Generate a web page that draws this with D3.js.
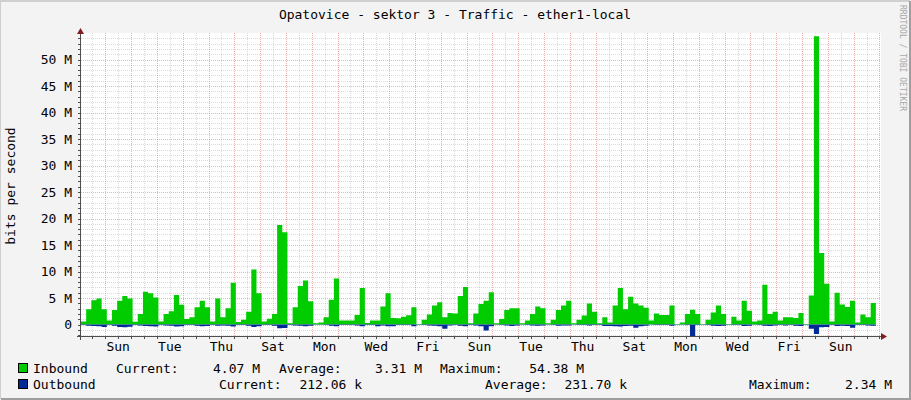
<!DOCTYPE html>
<html><head><meta charset="utf-8">
<script src="https://cdn.jsdelivr.net/npm/d3@7"></script>
<style>
html,body{margin:0;padding:0;background:#f3f3f3}
svg{display:block}
text{font-family:"DejaVu Sans Mono",monospace}
</style>
</head><body>
<svg id="c" width="911" height="400"></svg>
<script>
// ---------------- data ----------------
const title = "Opatovice - sektor 3 - Traffic - ether1-local";
const yAxisTitle = "bits per second";
const watermark = "RRDTOOL / TOBI OETIKER";
const seriesNames = ["Inbound", "Outbound"];
const seriesColors = ["#00CC00", "#002A97"];
const xTickLabels = ["Sun","Tue","Thu","Sat","Mon","Wed","Fri","Sun","Tue","Thu","Sat","Mon","Wed","Fri","Sun"];
const yTickValues = [0, 5, 10, 15, 20, 25, 30, 35, 40, 45, 50];           // in M (bits/s)
const yTickLabels = ["0","5 M","10 M","15 M","20 M","25 M","30 M","35 M","40 M","45 M","50 M"];
// consolidated samples, 5 per day (4.8 h each), in Mbit/s
const inbound = [
 0.6,2.9,4.6,4.9,2.9, 0.75,2.75,4.5,5.4,4.9, 0.56,2.0,6.2,5.9,5.1, 0.6,2.0,2.5,5.6,3.75,
 1.06,1.4,3.25,4.5,3.25, 0.6,4.9,1.4,3.1,7.9, 0.5,0.9,2.4,10.4,5.9, 0.6,1.1,2.0,18.8,17.4,
 0.25,3.25,7.3,8.3,4.4, 0.25,0.4,1.4,4.7,8.7, 0.75,0.75,0.75,1.8,6.9, 0.3,0.75,0.75,3.4,5.9,
 1.25,1.2,1.5,1.75,3.25, 0.1,0.9,1.9,3.6,4.2, 1.4,2.2,2.1,5.4,7.1, 0.25,2.1,3.9,4.5,6.1,
 0.25,1.06,2.75,3.1,3.1, 0.25,0.75,2.0,3.4,3.1, 0.25,0.9,2.75,3.6,4.5, 0.25,0.9,1.7,4.0,2.4,
 0.25,1.4,0.4,3.6,6.9, 2.9,5.25,4.0,3.6,3.2, 0.75,2.1,1.8,1.8,3.6, 0.1,0.4,2.0,2.8,2.0,
 0.1,0.9,2.3,3.6,2.0, 0.1,1.5,0.75,4.5,2.6, 0.6,0.75,7.5,2.0,2.4, 0.75,1.4,1.4,1.25,2.2,
 0.1,5.5,54.38,13.5,7.7, 0.57,6.0,3.8,3.3,4.5, 0.4,1.9,1.4,4.07
];
const outbound = [
 0.1,0.2,0.25,0.3,0.45, 0.1,0.2,0.45,0.5,0.4, 0.1,0.15,0.25,0.3,0.35, 0.1,0.15,0.2,0.35,0.3,
 0.1,0.1,0.2,0.3,0.25, 0.1,0.2,0.15,0.2,0.35, 0.1,0.1,0.2,0.45,0.3, 0.1,0.1,0.2,0.7,0.65,
 0.1,0.15,0.2,0.3,0.2, 0.05,0.05,0.1,0.2,0.3, 0.1,0.1,0.1,0.15,0.3, 0.1,0.1,0.3,0.15,0.3,
 0.3,0.1,0.1,0.1,0.3, 0.05,0.1,0.15,0.2,0.3, 0.8,0.15,0.1,0.2,0.3, 0.1,0.15,0.3,1.1,0.3,
 0.05,0.1,0.15,0.25,0.15, 0.05,0.1,0.15,0.2,0.15, 0.05,0.1,0.2,0.15,0.15, 0.05,0.1,0.1,0.15,0.1,
 0.1,0.25,0.25,0.3,0.35, 0.25,0.2,0.6,0.3,0.2, 0.05,0.1,0.1,0.1,0.2, 0.05,0.05,0.1,2.34,0.1,
 0.05,0.1,0.2,0.25,0.2, 0.05,0.1,0.1,0.25,0.2, 0.05,0.1,0.2,0.25,0.15, 0.1,0.15,0.1,0.2,0.25,
 0.05,0.8,1.76,0.5,0.45, 0.1,0.25,0.2,0.25,0.6, 0.1,0.1,0.15,0.212
];
const legendCurrent = ["4.07 M", "212.06 k"];
const legendAverage = ["3.31 M", "231.70 k"];
const legendMaximum = ["54.38 M", "2.34 M"];

// ---------------- layout ----------------
const W = 911, H = 400;
const X0 = 81, X1 = 881, YT = 33, YB = 337;
const HOUR = 3600e3, DAY = 24 * HOUR;
const t0 = Date.UTC(2020, 1, 1, 1, 24);       // Sat 01:24
const tEnd = t0 + 31 * DAY;
const stepMs = 4.8 * HOUR;

const svg = d3.select("#c");
const x = d3.scaleUtc().domain([new Date(t0), new Date(tEnd)]).range([X0, X1]);
const y = d3.scaleLinear().domain([-2.34, 55]).range([YB, YT]);

// background + 3D frame
svg.append("rect").attr("width", W).attr("height", H).attr("fill", "#F3F3F3");
svg.append("path").attr("d", `M0,${H-1} V1 H${W-1}`).attr("stroke", "#CFCFCF").attr("stroke-width", 2).attr("fill", "none");
svg.append("path").attr("d", `M1,${H-1} H${W-1} V1`).attr("stroke", "#9E9E9E").attr("stroke-width", 2).attr("fill", "none");

// canvas
svg.append("rect").attr("x", X0).attr("y", YT).attr("width", X1 - X0).attr("height", YB - YT).attr("fill", "#FFFFFF");

const grid = svg.append("g").attr("shape-rendering", "crispEdges");
const minorCol = "rgba(143,143,143,0.32)", majorCol = "rgba(230,70,70,0.42)";

// horizontal minor grid (1 M) and major (5 M)
const hMinor = d3.range(-2, 55, 1).filter(v => v % 5 !== 0);
grid.selectAll(".hmin").data(hMinor).join("line")
  .attr("x1", X0).attr("x2", X1)
  .attr("y1", d => Math.round(y(d)) + 0.5).attr("y2", d => Math.round(y(d)) + 0.5)
  .attr("stroke", minorCol).attr("stroke-dasharray", "1,1");
grid.selectAll(".hmaj").data(yTickValues).join("line")
  .attr("x1", X0).attr("x2", X1)
  .attr("y1", d => Math.round(y(d)) + 0.5).attr("y2", d => Math.round(y(d)) + 0.5)
  .attr("stroke", majorCol).attr("stroke-dasharray", "1,1");

// vertical grid: minor every 12h, major at midnight
const halfDays = d3.utcHour.every(12).range(new Date(t0), new Date(tEnd));
const days = d3.utcDay.range(new Date(t0), new Date(tEnd));
grid.selectAll(".vmin").data(halfDays.filter(d => d.getUTCHours() === 12)).join("line")
  .attr("x1", d => Math.round(x(d)) + 0.5).attr("x2", d => Math.round(x(d)) + 0.5)
  .attr("y1", YT).attr("y2", YB)
  .attr("stroke", minorCol).attr("stroke-dasharray", "1,1");
grid.selectAll(".vmaj").data(days).join("line")
  .attr("x1", d => Math.round(x(d)) + 0.5).attr("x2", d => Math.round(x(d)) + 0.5)
  .attr("y1", YT).attr("y2", YB)
  .attr("stroke", majorCol).attr("stroke-dasharray", "1,1");

// data areas
const inPts = inbound.map((v, i) => ({t: new Date(t0 + i * stepMs), v}));
inPts.push({t: new Date(t0 + inbound.length * stepMs), v: inbound[inbound.length - 1]});
const outPts = outbound.map((v, i) => ({t: new Date(t0 + i * stepMs), v}));
outPts.push({t: new Date(t0 + outbound.length * stepMs), v: outbound[outbound.length - 1]});

const areaIn = d3.area().curve(d3.curveStepAfter)
  .x(d => x(d.t)).y0(y(0)).y1(d => y(d.v));
const areaOut = d3.area().curve(d3.curveStepAfter)
  .x(d => x(d.t)).y0(y(0)).y1(d => y(-d.v));
svg.append("path").attr("d", areaIn(inPts)).attr("fill", seriesColors[0]);
svg.append("path").attr("d", areaOut(outPts)).attr("fill", seriesColors[1]);

// axes
const ax = svg.append("g").attr("shape-rendering", "crispEdges");
ax.append("line").attr("x1", 77).attr("x2", 884).attr("y1", YB - 0.5).attr("y2", YB - 0.5).attr("stroke", "#4F4F4F");
ax.append("line").attr("x1", X0 - 0.5).attr("x2", X0 - 0.5).attr("y1", 30).attr("y2", YB + 3).attr("stroke", "#4F4F4F");
// x ticks
ax.selectAll(".xt").data(halfDays).join("line")
  .attr("x1", d => Math.round(x(d)) + 0.5).attr("x2", d => Math.round(x(d)) + 0.5)
  .attr("y1", YB).attr("y2", YB + 2).attr("stroke", "#4F4F4F");
// y ticks
ax.selectAll(".yt").data(d3.range(-2, 55, 1)).join("line")
  .attr("x1", X0 - 3).attr("x2", X0 - 1)
  .attr("y1", d => Math.round(y(d)) + 0.5).attr("y2", d => Math.round(y(d)) + 0.5)
  .attr("stroke", "#4F4F4F");
// arrows
svg.append("path").attr("d", `M${X0-0.5},28 L${X0-4},34 L${X0+3},34 Z`).attr("fill", "#7F1F1F");
svg.append("path").attr("d", `M887,${YB-0.5} L881,${YB-4} L881,${YB+3} Z`).attr("fill", "#7F1F1F");

// tick labels
svg.selectAll(".yl").data(yTickValues).join("text")
  .attr("x", 72).attr("y", d => y(d) + 4.5).attr("text-anchor", "end")
  .attr("font-size", 13).attr("fill", "#000").text((d, i) => yTickLabels[i]);
const firstLabel = Date.UTC(2020, 1, 2, 12, 0);
svg.selectAll(".xl").data(xTickLabels).join("text")
  .attr("x", (d, i) => x(new Date(firstLabel + i * 2 * DAY)))
  .attr("y", 351).attr("text-anchor", "middle")
  .attr("font-size", 13).attr("fill", "#000").text(d => d);

// titles
svg.append("text").attr("x", 455).attr("y", 19).attr("text-anchor", "middle")
  .attr("font-size", 13).attr("fill", "#000").text(title);
svg.append("text").attr("transform", "translate(15,186) rotate(-90)").attr("text-anchor", "middle")
  .attr("font-size", 13).attr("fill", "#000").text(yAxisTitle);
svg.append("text").attr("transform", "translate(900,5) rotate(90)").attr("text-anchor", "start")
  .attr("font-size", 8).attr("fill", "#A8A8A8").text(watermark);

// legend
const lg = svg.append("g").attr("font-size", 13).attr("fill", "#000");
const rowY = [373, 389];
seriesNames.forEach((name, i) => {
  lg.append("rect").attr("x", 18.5).attr("y", rowY[i] - 9.5).attr("width", 9).attr("height", 9)
    .attr("fill", seriesColors[i]).attr("stroke", "#000").attr("stroke-width", 1);
  lg.append("text").attr("x", 33).attr("y", rowY[i]).text(name);
});
// row 1
lg.append("text").attr("x", 116).attr("y", rowY[0]).text("Current:");
lg.append("text").attr("x", 260).attr("y", rowY[0]).attr("text-anchor", "end").text(legendCurrent[0]);
lg.append("text").attr("x", 279).attr("y", rowY[0]).text("Average:");
lg.append("text").attr("x", 422).attr("y", rowY[0]).attr("text-anchor", "end").text(legendAverage[0]);
lg.append("text").attr("x", 440).attr("y", rowY[0]).text("Maximum:");
lg.append("text").attr("x", 584).attr("y", rowY[0]).attr("text-anchor", "end").text(legendMaximum[0]);
// row 2
lg.append("text").attr("x", 219).attr("y", rowY[1]).text("Current:");
lg.append("text").attr("x", 362).attr("y", rowY[1]).attr("text-anchor", "end").text(legendCurrent[1]);
lg.append("text").attr("x", 485).attr("y", rowY[1]).text("Average:");
lg.append("text").attr("x", 627).attr("y", rowY[1]).attr("text-anchor", "end").text(legendAverage[1]);
lg.append("text").attr("x", 749).attr("y", rowY[1]).text("Maximum:");
lg.append("text").attr("x", 892).attr("y", rowY[1]).attr("text-anchor", "end").text(legendMaximum[1]);
</script>
</body></html>
